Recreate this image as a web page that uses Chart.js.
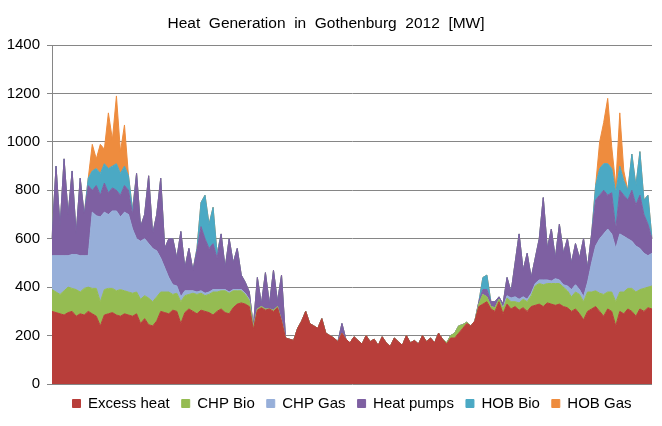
<!DOCTYPE html>
<html>
<head>
<meta charset="utf-8">
<script src="https://cdn.jsdelivr.net/npm/chart.js@4.4.1/dist/chart.umd.min.js"></script>
<style>
  html,body{margin:0;padding:0;background:#fff;}
  #wrap{width:662px;height:426px;}
</style>
</head>
<body>
<div id="wrap"><canvas id="heat" width="662" height="426"></canvas></div>
<script>
// Heat generation in Gothenburg 2012, MW per source (stacked)
const excessHeat = [
  300,295,290,285,295,300,280,290,285,300,
  290,280,240,285,290,295,285,280,290,285,
  280,290,250,270,245,240,260,300,295,290,
  305,300,250,295,310,300,290,305,300,295,
  285,300,310,295,290,315,330,335,330,320,
  225,305,315,305,310,300,315,260,190,185,
  180,230,260,300,250,240,230,270,210,200,
  190,175,210,185,170,195,180,165,200,175,
  185,160,195,170,155,190,175,160,200,170,
  180,165,200,175,190,170,210,185,165,190,
  190,210,230,250,240,260,320,330,340,310,
  300,340,290,330,310,320,305,315,300,320,
  325,330,320,335,330,325,330,320,315,300,
  310,290,265,300,310,320,300,280,310,300,
  240,300,290,310,300,280,310,300,315,310
];
const chpBio = [
  90,85,80,100,105,95,110,90,110,100,
  105,115,100,105,105,100,100,110,95,95,
  95,90,100,95,110,100,100,80,85,90,
  65,75,90,70,60,75,80,70,65,75,
  95,80,75,90,85,70,55,50,40,25,
  10,5,5,5,0,5,5,0,0,0,
  0,0,0,0,0,0,0,0,0,0,
  0,0,0,0,0,0,0,0,0,0,
  0,0,0,0,0,0,0,0,0,0,
  0,0,0,0,0,0,0,0,5,10,
  20,30,15,5,0,0,10,40,20,10,
  15,10,20,25,30,20,30,35,40,45,
  80,85,90,80,85,90,85,80,70,60,
  70,80,75,80,70,65,75,90,70,80,
  100,80,90,85,95,100,80,95,85,95
];
const chpGas = [
  140,150,160,145,130,140,145,150,135,130,
  315,300,350,320,305,320,330,300,325,320,
  265,220,240,235,225,220,190,140,100,60,
  40,30,20,20,15,10,10,10,10,10,
  10,10,5,5,5,5,5,5,5,5,
  0,0,0,0,0,0,0,0,0,0,
  0,0,0,0,0,0,0,0,0,0,
  0,0,0,0,0,0,0,0,0,0,
  0,0,0,0,0,0,0,0,0,0,
  0,0,0,0,0,0,0,0,0,0,
  0,0,0,0,0,0,0,0,0,0,
  0,0,5,10,15,20,15,10,10,10,
  10,15,20,15,10,20,15,10,20,30,
  30,20,20,40,120,185,225,250,260,240,
  220,240,230,205,195,190,170,145,130,135
];
const heatPumps = [
  70,370,120,400,170,345,85,320,170,290,
  90,125,90,120,90,95,85,90,110,100,
  60,270,60,100,280,60,150,330,80,160,
  190,115,270,95,175,85,170,265,225,180,
  190,130,230,90,220,110,170,60,45,30,
  0,130,10,150,20,165,20,190,0,0,
  0,0,0,0,0,0,0,0,0,0,
  0,0,40,0,0,0,0,0,0,0,
  0,0,0,0,0,0,0,0,0,0,
  0,0,0,0,0,0,0,0,0,0,
  0,0,0,0,0,0,10,20,30,20,
  25,10,15,75,25,140,270,110,190,65,
  105,170,340,130,215,85,230,130,195,110,
  170,130,240,60,120,190,180,180,140,170,
  80,180,170,160,210,170,220,160,130,60
];
const hobBio = [
  0,0,0,0,0,0,0,0,0,30,
  80,70,90,80,100,90,110,90,80,60,
  20,0,0,0,0,0,0,0,0,0,
  0,0,0,0,0,0,10,100,180,100,
  150,20,0,0,0,0,0,0,0,0,
  0,0,0,0,0,0,0,0,0,0,
  0,0,0,0,0,0,0,0,0,0,
  0,0,0,0,0,0,0,0,0,0,
  0,0,0,0,0,0,0,0,0,0,
  0,0,0,0,0,0,0,0,0,0,
  0,0,0,0,0,0,0,50,60,0,
  0,0,0,0,0,0,0,0,0,0,
  0,0,0,0,0,0,0,0,0,0,
  0,0,0,0,0,60,110,110,130,100,
  150,100,60,40,150,80,180,60,120,0
];
const hobGas = [
  0,0,0,0,0,0,0,0,0,0,
  110,40,120,60,230,110,280,90,170,0,
  0,0,0,0,0,0,0,0,0,0,
  0,0,0,0,0,0,0,0,0,0,
  0,0,0,0,0,0,0,0,0,0,
  0,0,0,0,0,0,0,0,0,0,
  0,0,0,0,0,0,0,0,0,0,
  0,0,0,0,0,0,0,0,0,0,
  0,0,0,0,0,0,0,0,0,0,
  0,0,0,0,0,0,0,0,0,0,
  0,0,0,0,0,0,0,0,0,0,
  0,0,0,0,0,0,0,0,0,0,
  0,0,0,0,0,0,0,0,0,0,
  0,0,0,0,0,0,110,170,270,90,
  30,220,40,0,0,0,0,0,0,0
];
const seriesNames = ['Excess heat','CHP Bio','CHP Gas','Heat pumps','HOB Bio','HOB Gas'];
const seriesColors = ['#B83E3A','#95BC52','#97AFD9','#7E60A2','#4BA9C4','#EE8C3E'];
const yTicks = [0,200,400,600,800,1000,1200,1400];

const labels = excessHeat.map((_, i) => i);
const FONT = "'Liberation Sans', Arial, sans-serif";

const datasets = [excessHeat, chpBio, chpGas, heatPumps, hobBio, hobGas].map((data, i) => ({
  label: seriesNames[i],
  data,
  backgroundColor: seriesColors[i],
  borderColor: seriesColors[i],
  borderWidth: 1,
  pointRadius: 0,
  tension: 0,
  fill: i === 0 ? 'origin' : '-1'
}));

new Chart(document.getElementById('heat'), {
  type: 'line',
  data: { labels, datasets },
  options: {
    responsive: false,
    animation: false,
    devicePixelRatio: 1,
    layout: { padding: { left: 0, right: 10, top: 0, bottom: 5 } },
    plugins: {
      title: {
        display: true,
        text: 'Heat  Generation  in  Gothenburg  2012  [MW]',
        color: '#000',
        font: { family: FONT, size: 15.5, weight: 'normal' },
        padding: { top: 14, bottom: 12.5 }
      },
      legend: {
        position: 'bottom',
        fullSize: false,
        labels: {
          color: '#000',
          font: { family: FONT, size: 15 },
          boxWidth: 8, boxHeight: 8,
          padding: 12
        }
      },
      tooltip: { enabled: false }
    },
    scales: {
      x: { display: false },
      y: {
        stacked: true,
        min: 0, max: 1400,
        afterBuildTicks: s => { s.ticks = yTicks.map(v => ({ value: v })); },
        afterFit: s => { s.width = 52; },
        ticks: { color: '#000', font: { family: FONT, size: 15 }, padding: 7, callback: v => String(v) },
        grid: { color: '#868686', tickLength: 5 },
        border: { color: '#868686' }
      }
    }
  }
});
</script>
</body>
</html>
